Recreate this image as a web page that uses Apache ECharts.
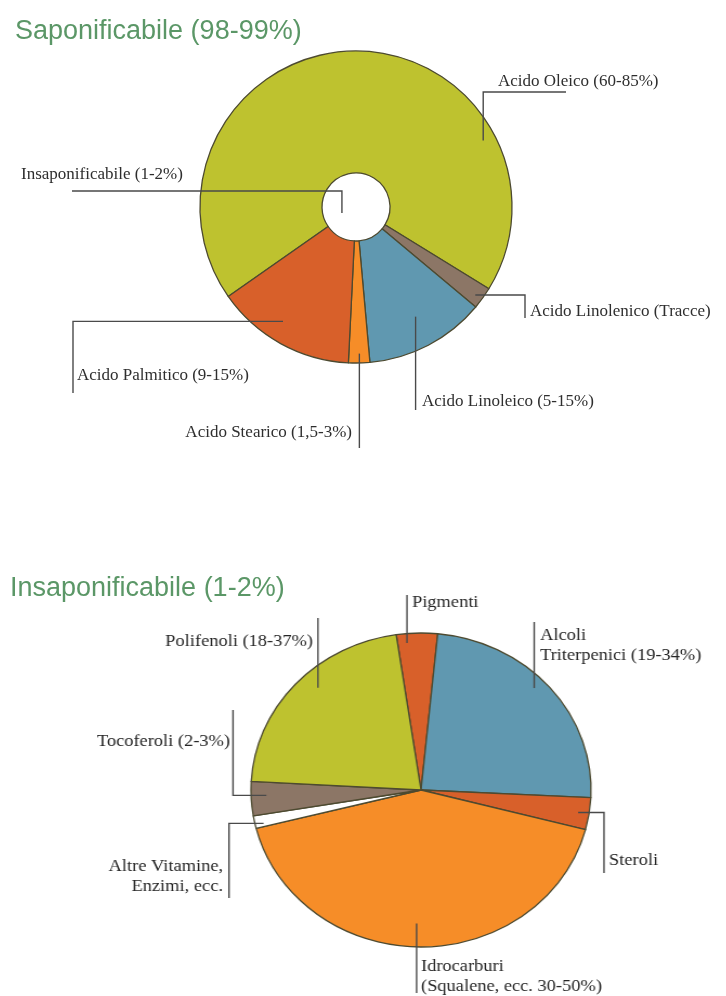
<!DOCTYPE html>
<html>
<head>
<meta charset="utf-8">
<script src="https://cdn.jsdelivr.net/npm/echarts@6/dist/echarts.min.js"></script>
<style>
  html, body { margin: 0; padding: 0; background: #ffffff; overflow: hidden; }
  #main, #lower { position: absolute; left: 0; top: 0; width: 726px; height: 996px; }
  #lower { transform: scaleX(1.083); transform-origin: 421px 0; }
</style>
</head>
<body>
<div id="main"></div>
<div id="lower"></div>
<script>
// ---- Saponifiable fraction (ring) ----
const topNames = [
  'Acido Oleico (60-85%)',
  'Acido Linolenico (Tracce)',
  'Acido Linoleico (5-15%)',
  'Acido Stearico (1,5-3%)',
  'Acido Palmitico (9-15%)'
];
const topValues = [68.5, 2.3, 12.5, 2.2, 14.5];
const topColors = ['#bec22f', '#8c7666', '#6098b0', '#f68d28', '#d8602a'];

// ---- the unsaponifiable share sits in the hole of the ring ----
const holeNames = ['Insaponificabile (1-2%)'];
const holeValues = [1.5];

// ---- Unsaponifiable fraction ----
const bottomNames = [
  'Pigmenti',
  'Alcoli\nTriterpenici (19-34%)',
  'Steroli',
  'Idrocarburi\n(Squalene, ecc. 30-50%)',
  'Altre Vitamine,\nEnzimi, ecc.',
  'Tocoferoli (2-3%)',
  'Polifenoli (18-37%)'
];
const bottomValues = [3.9, 24.2, 3.3, 42.0, 1.3, 3.5, 21.8];
const bottomColors = ['#d8602a', '#6098b0', '#d8602a', '#f68d28', '#ffffff', '#8c7666', '#bec22f'];

const titles = ['Saponificabile (98-99%)', 'Insaponificabile (1-2%)'];

// ---- geometry and label placement ----
const TOP = { cx: 356, cy: 207, r: 156, hole: 34, start: 215 };
const BOT = { cx: 421, cy: 790, r: 157, start: 98.4, k: 1.083 };

// t: position along the slice, rf: fraction of the radius where the leader starts
const topLabelPos = [
  { t: 0.76, rf: 0.92, path: [['v', 92], ['h', 566]], x: 498, y: 82, align: 'left' },
  { t: 0.58, rf: 0.95, path: [['h', 525], ['v', 318]], x: 530, y: 312, align: 'left' },
  { t: 0.48, rf: 0.80, path: [['v', 410]], x: 422, y: 402, align: 'left' },
  { t: 0.48, rf: 0.94, path: [['v', 448]], x: 352, y: 433, align: 'right' },
  { t: 0.57, rf: 0.87, path: [['h', 73], ['v', 393]], x: 77, y: 376, align: 'left' }
];
const holeLabelPos = [
  { t: 0.033, rf: 0.45, path: [['v', 191], ['h', 72]], x: 21, y: 175, align: 'left' }
];
const bottomLabelPos = [
  { t: 0.24, rf: 0.94, path: [['v', 595]], x: 412, y: 603, align: 'left' },
  { t: 0.46, rf: 0.93, path: [['v', 622]], x: 540, y: 646, align: 'left' },
  { t: 0.51, rf: 0.935, path: [['h', 604], ['v', 873]], x: 609, y: 861, align: 'left' },
  { t: 0.51, rf: 0.85, path: [['v', 993]], x: 421, y: 977, align: 'left' },
  { t: 0.26, rf: 0.95, path: [['h', 229], ['v', 898]], x: 223, y: 877, align: 'right' },
  { t: 0.58, rf: 0.91, path: [['h', 233], ['v', 710]], x: 230, y: 742, align: 'right' },
  { t: 0.56, rf: 0.89, path: [['v', 618]], x: 313, y: 642, align: 'right' }
];

// point inside slice i, following the pie's own clockwise layout
function sliceAnchor(values, startAngle, i, t, rf, cx, cy, r) {
  const total = values.reduce((a, b) => a + b, 0);
  let cum = 0;
  for (let j = 0; j < i; j++) cum += values[j];
  const s0 = -startAngle + 360 * cum / total;
  const span = 360 * values[i] / total;
  const a = (s0 + t * span) * Math.PI / 180;
  return [cx + rf * r * Math.cos(a), cy + rf * r * Math.sin(a)];
}

// elbow-shaped leader lines: start inside the slice, then run vertical/horizontal
function elbowLayout(values, geo, radius, positions, k) {
  const toLocal = (x) => geo.cx + (x - geo.cx) / k;
  return function (params) {
    const p = positions[params.dataIndex];
    const a = sliceAnchor(values, geo.start, params.dataIndex, p.t, p.rf, geo.cx, geo.cy, radius);
    const pts = [a];
    let cur = a;
    p.path.forEach(([dir, v]) => {
      cur = dir === 'v' ? [cur[0], v] : [toLocal(v), cur[1]];
      pts.push(cur);
    });
    return {
      x: toLocal(p.x),
      y: p.y,
      align: p.align,
      verticalAlign: 'middle',
      labelLinePoints: pts
    };
  };
}

const edge = '#4d4a30';
const leader = { show: true, lineStyle: { color: '#4a4a4a', width: 1.4 } };

function pieData(names, values, colors) {
  return names.map((n, i) => ({ name: n, value: values[i], itemStyle: { color: colors[i] } }));
}

const labelFont = {
  show: true,
  position: 'outside',
  formatter: '{b}',
  fontFamily: 'Liberation Serif',
  fontSize: 17,
  lineHeight: 20,
  color: '#2e2e2e'
};

// filled slices (no labels)
function slicesSeries(geo, radius, names, values, colors) {
  return {
    type: 'pie',
    z: 2,
    center: [geo.cx, geo.cy],
    radius: radius,
    startAngle: geo.start,
    clockwise: true,
    avoidLabelOverlap: false,
    emphasis: { disabled: true },
    itemStyle: { borderColor: edge, borderWidth: 1.3 },
    label: { show: false },
    labelLine: { show: false },
    data: pieData(names, values, colors)
  };
}

// same slices, unfilled, carrying the labels above every sector
function labelSeries(geo, radius, names, values, positions, k, color) {
  return {
    type: 'pie',
    z: 4,
    silent: true,
    center: [geo.cx, geo.cy],
    radius: radius,
    startAngle: geo.start,
    clockwise: true,
    avoidLabelOverlap: false,
    emphasis: { disabled: true },
    itemStyle: { color: 'rgba(0,0,0,0)', borderWidth: 0 },
    label: Object.assign({}, labelFont, { color: color }),
    labelLine: leader,
    labelLayout: elbowLayout(values, geo, radius[1], positions, k),
    data: names.map((n, i) => ({ name: n, value: values[i] }))
  };
}

const titleStyle = { fontFamily: 'Liberation Sans', fontSize: 27, fontWeight: 'normal', color: '#5b9767' };

const main = echarts.init(document.getElementById('main'), null, { renderer: 'canvas' });
main.setOption({
  animation: false,
  backgroundColor: 'transparent',
  title: [
    { text: titles[0], left: 15, top: 18, padding: 0, textStyle: titleStyle },
    { text: titles[1], left: 10, top: 575, padding: 0, textStyle: titleStyle }
  ],
  series: [
    slicesSeries(TOP, [TOP.hole, TOP.r], topNames, topValues, topColors),
    labelSeries(TOP, [TOP.hole, TOP.r], topNames, topValues, topLabelPos, 1, '#2e2e2e'),
    labelSeries(TOP, [0, TOP.hole], holeNames, holeValues, holeLabelPos, 1, '#2e2e2e')
  ]
});

const lower = echarts.init(document.getElementById('lower'), null, { renderer: 'canvas' });
lower.setOption({
  animation: false,
  backgroundColor: 'transparent',
  series: [
    slicesSeries(BOT, [0, BOT.r], bottomNames, bottomValues, bottomColors),
    labelSeries(BOT, [0, BOT.r], bottomNames, bottomValues, bottomLabelPos, BOT.k, '#262626')
  ]
});
</script>
</body>
</html>
